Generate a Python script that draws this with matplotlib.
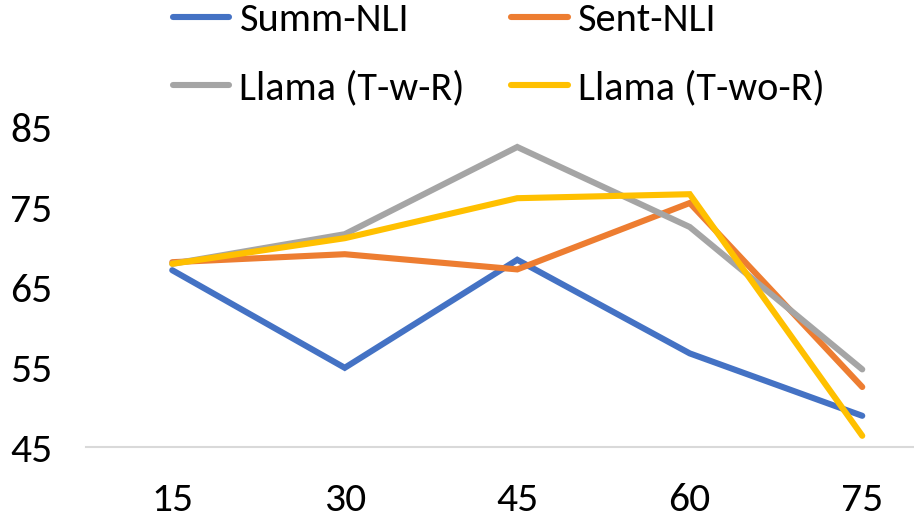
import matplotlib
matplotlib.use("Agg")
import matplotlib.pyplot as plt

categories = ["15", "30", "45", "60", "75"]
summ_nli = [67.1, 54.9, 68.4, 56.7, 48.9]
sent_nli = [68.1, 69.1, 67.2, 75.5, 52.5]
llama_twr = [67.9, 71.6, 82.5, 72.5, 54.7]
llama_twor = [67.9, 71.1, 76.1, 76.6, 46.4]
yticks = [45, 55, 65, 75, 85]

series = [
    ("Summ-NLI", summ_nli, "#4472C4"),
    ("Sent-NLI", sent_nli, "#ED7D31"),
    ("Llama (T-w-R)", llama_twr, "#A5A5A5"),
    ("Llama (T-wo-R)", llama_twor, "#FFC000"),
]

plt.rcParams['font.family'] = ['Carlito', 'Liberation Sans Narrow', 'Open Sans', 'DejaVu Sans']

fig = plt.figure(figsize=(9.14, 5.18), dpi=100)
ax = fig.add_axes([86/914, 1-447/518, 1-86/914, (447-127)/518])
x = list(range(len(categories)))
handles = []
for name, vals, col in series:
    h, = ax.plot(x, vals, color=col, lw=4.4, solid_capstyle='round', solid_joinstyle='miter', label=name)
    handles.append(h)

ax.set_xlim(-0.5, 4.30)
ax.set_ylim(45, 85)
ax.set_xticks(x)
ax.set_xticklabels(categories)
ax.set_yticks(yticks)
for s in ['top', 'right', 'left']:
    ax.spines[s].set_visible(False)
ax.spines['bottom'].set_color('#D9D9D9')
ax.spines['bottom'].set_linewidth(1.5)
ax.tick_params(axis='both', length=0, labelsize=30)
ax.tick_params(axis='y', pad=24)
ax.tick_params(axis='x', pad=25)

order = [0, 2, 1, 3]
fig.legend(handles=[handles[i] for i in order], ncol=2, loc='upper left',
           bbox_to_anchor=(171/914, 1.0),
           frameon=False, fontsize=29, handlelength=1.4, handletextpad=0.25,
           columnspacing=1.15, labelspacing=0.8, borderaxespad=0.0, borderpad=0.05)

fig.savefig("out.png", dpi=100)
